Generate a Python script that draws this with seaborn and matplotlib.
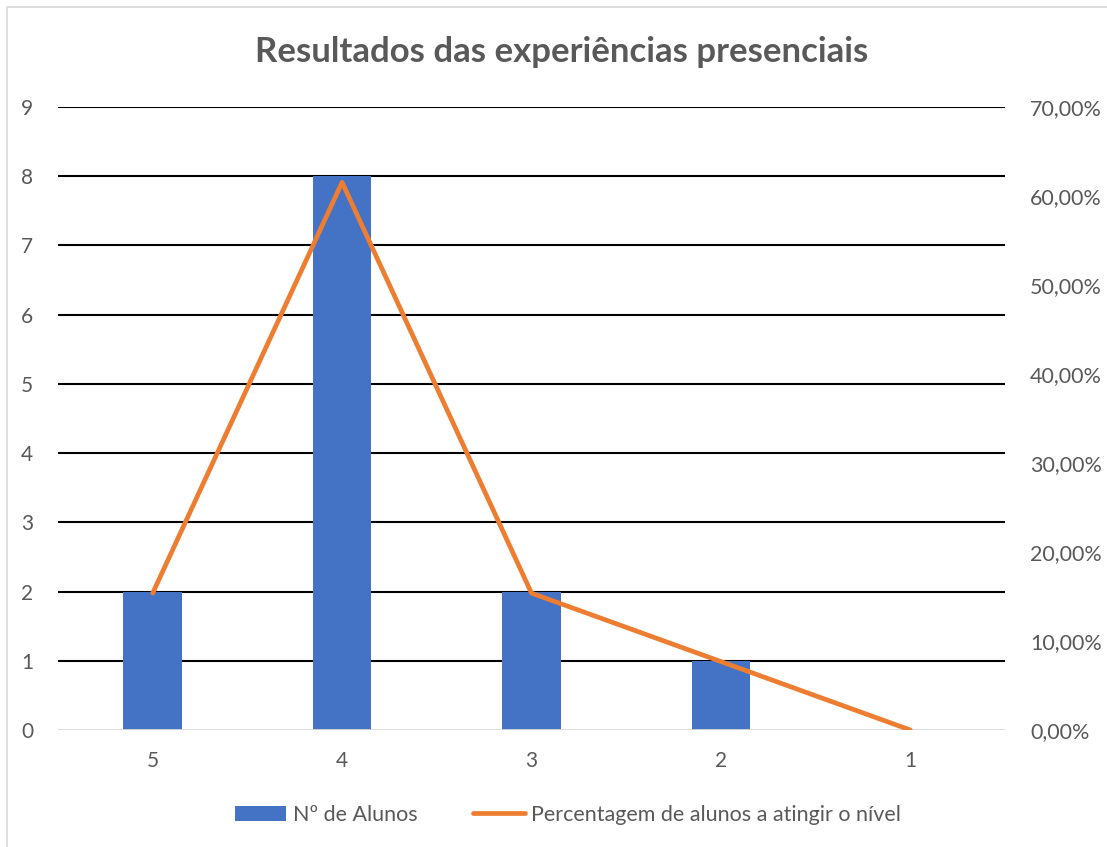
import matplotlib
matplotlib.use("Agg")
import matplotlib.pyplot as plt
from matplotlib.patches import Rectangle
from matplotlib.lines import Line2D
from matplotlib.patches import Patch
from matplotlib.ticker import FuncFormatter
import seaborn as sns
import pandas as pd

# Levels reached and number of students at each level
levels = ["5", "4", "3", "2", "1"]
students = [2, 8, 2, 1, 0]
percent = [0.1538, 0.6154, 0.1538, 0.0769, 0.0]

bar_label = "Nº de Alunos"
line_label = "Percentagem de alunos a atingir o nível"
title = "Resultados das experiências presenciais"

BLUE = "#4472C4"
ORANGE = "#ED7D31"
TEXT = "#595959"

sns.set_theme(style="white")
plt.rcParams["font.family"] = ["Lato", "DejaVu Sans"]

df = pd.DataFrame({"nivel": levels, "alunos": students, "pct": percent})

fig = plt.figure(figsize=(11.07, 8.47), dpi=100)
ax = fig.add_axes([58 / 1107, 1 - 730 / 847, 947 / 1107, 623 / 847])

sns.barplot(data=df, x="nivel", y="alunos", order=levels, color=BLUE,
            width=0.31, saturation=1, linewidth=0, ax=ax, zorder=3)
ax.set_ylim(0, 9)
ax.set_xlim(-0.5, len(levels) - 0.5)
ax.set_yticks(range(0, 10))
for y in range(1, 10):
    ax.axhline(y, color="black", lw=1.5, zorder=1)
ax.axhline(0, color="#D9D9D9", lw=2, zorder=4)
for s in ax.spines.values():
    s.set_visible(False)
ax.set_xlabel("")
ax.set_ylabel("")
ax.tick_params(axis="both", length=0, labelsize=15, labelcolor=TEXT)
ax.tick_params(axis="y", pad=18)
ax.tick_params(axis="x", pad=15)

ax2 = ax.twinx()
sns.lineplot(data=df, x="nivel", y="pct", sort=False, color=ORANGE,
             lw=3.4, ax=ax2, zorder=5, solid_capstyle="round",
             solid_joinstyle="round")
ax2.set_ylim(0, 0.7)
ax2.set_yticks([i / 10 for i in range(8)])
ax2.yaxis.set_major_formatter(FuncFormatter(lambda v, _: f"{v * 100:.2f}%".replace(".", ",")))
ax2.tick_params(axis="y", length=0, labelsize=15.5, labelcolor=TEXT, pad=18)
ax2.set_ylabel("")
ax2.grid(False)
for s in ax2.spines.values():
    s.set_visible(False)
ax2.set_xlim(-0.5, len(levels) - 0.5)

fig.text(0.507, 1 - 52 / 847, title, ha="center", va="center",
         fontsize=25, fontweight="bold", color=TEXT)

handles = [Patch(facecolor=BLUE, edgecolor="none", label=bar_label),
           Line2D([0], [0], color=ORANGE, lw=3.4, label=line_label)]
fig.legend(handles=handles, loc="center", bbox_to_anchor=(0.513, 1 - 815 / 847),
           ncol=2, frameon=False, fontsize=15.5, labelcolor=TEXT,
           handlelength=2.4, handletextpad=0.3, columnspacing=2.6)

fig.patches.append(Rectangle((7 / 1107, -0.01), 1.0, 1 - 7 / 847 + 0.01,
                             transform=fig.transFigure, fill=False,
                             edgecolor="#D9D9D9", lw=1.2))

fig.savefig("out.png", dpi=100)
